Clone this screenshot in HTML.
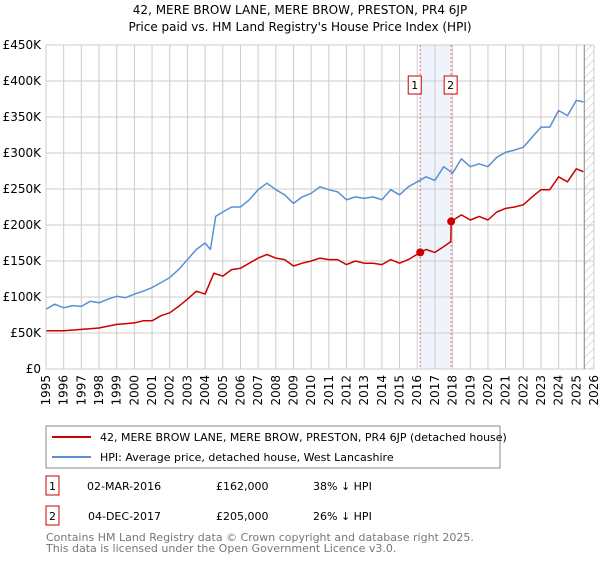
<!DOCTYPE html>
<html><head><meta charset="utf-8"><style>
body{margin:0;background:#fff;font-family:"DejaVu Sans","Liberation Sans",sans-serif;}
svg text{font-family:"DejaVu Sans","Liberation Sans",sans-serif;}
</style></head><body>
<svg id="c" width="600" height="560" xmlns="http://www.w3.org/2000/svg">
<defs><pattern id="hatch" width="6" height="6" patternUnits="userSpaceOnUse" patternTransform="rotate(45)"><line x1="0" y1="0" x2="0" y2="6" stroke="#bbb" stroke-width="1"/></pattern></defs>
<text x="300" y="14" text-anchor="middle" font-size="12" fill="#000">42, MERE BROW LANE, MERE BROW, PRESTON, PR4 6JP</text>
<text x="300" y="31" text-anchor="middle" font-size="12" fill="#000">Price paid vs. HM Land Registry's House Price Index (HPI)</text>
<g id="grid"></g><g id="marks"></g><g id="axes"></g>
<rect x="46" y="426" width="454" height="42" fill="#fff" stroke="#888"/>
<line x1="52" y1="437" x2="91" y2="437" stroke="#cc0000" stroke-width="2"/>
<text x="100" y="441" font-size="11">42, MERE BROW LANE, MERE BROW, PRESTON, PR4 6JP (detached house)</text>
<line x1="52" y1="457" x2="91" y2="457" stroke="#5b8fd4" stroke-width="2"/>
<text x="100" y="461" font-size="11">HPI: Average price, detached house, West Lancashire</text>
<g>
<rect x="46" y="476" width="13" height="19" fill="#fff" stroke="#cc0000"/><text x="52.5" y="490" text-anchor="middle" font-size="11">1</text>
<text x="87" y="490" font-size="11">02-MAR-2016</text><text x="216" y="490" font-size="11">£162,000</text><text x="313" y="490" font-size="11">38% ↓ HPI</text></g>
<g>
<rect x="46" y="506" width="13" height="19" fill="#fff" stroke="#cc0000"/><text x="52.5" y="520" text-anchor="middle" font-size="11">2</text>
<text x="88" y="520" font-size="11">04-DEC-2017</text><text x="216" y="520" font-size="11">£205,000</text><text x="313" y="520" font-size="11">26% ↓ HPI</text></g>
<text x="46" y="541" font-size="11" fill="#777">Contains HM Land Registry data © Crown copyright and database right 2025.</text>
<text x="46" y="552" font-size="11" fill="#777">This data is licensed under the Open Government Licence v3.0.</text>
</svg>
<script>
const hpiYears=[1995,1995.5,1996,1996.5,1997,1997.5,1998,1998.5,1999,1999.5,2000,2000.5,2001,2001.5,2002,2002.5,2003,2003.5,2004,2004.3,2004.6,2005,2005.5,2006,2006.5,2007,2007.5,2008,2008.5,2009,2009.5,2010,2010.5,2011,2011.5,2012,2012.5,2013,2013.5,2014,2014.5,2015,2015.5,2016,2016.5,2017,2017.5,2018,2018.5,2019,2019.5,2020,2020.5,2021,2021.5,2022,2022.5,2023,2023.5,2024,2024.5,2025,2025.4];
const hpiValues=[83,90,85,88,87,94,92,97,101,99,104,108,113,120,127,138,152,166,175,166,212,218,225,225,235,249,258,249,242,230,239,244,253,249,246,235,239,237,239,235,249,242,253,260,267,262,281,272,292,281,285,281,294,301,304,308,322,336,336,359,352,373,371];
const propYears=[1995,1996,1997,1998,1999,2000,2000.5,2001,2001.5,2002,2002.5,2003,2003.5,2004,2004.5,2005,2005.5,2006,2006.5,2007,2007.5,2008,2008.5,2009,2009.5,2010,2010.5,2011,2011.5,2012,2012.5,2013,2013.5,2014,2014.5,2015,2015.5,2016.17,2016.5,2017,2017.5,2017.9,2017.92,2018.5,2019,2019.5,2020,2020.5,2021,2021.5,2022,2022.5,2023,2023.5,2024,2024.5,2025,2025.4];
const propValues=[53,53,55,57,62,64,67,67,74,78,87,97,108,104,133,129,138,140,147,154,159,154,152,143,147,150,154,152,152,145,150,147,147,145,152,147,152,162,166,162,170,177,205,214,207,212,207,218,223,225,228,239,249,249,267,260,278,274];
const saleYears=[2016.17,2017.92];
const saleValues=[162,205];
const saleLabels=["1","2"];
const yTicks=[0,50,100,150,200,250,300,350,400,450];
const yTickLabels=["£0","£50K","£100K","£150K","£200K","£250K","£300K","£350K","£400K","£450K"];
const xTicks=[1995,1996,1997,1998,1999,2000,2001,2002,2003,2004,2005,2006,2007,2008,2009,2010,2011,2012,2013,2014,2015,2016,2017,2018,2019,2020,2021,2022,2023,2024,2025,2026];

const X0=46,X1=594,Y0=369,Y1=45;
const sx=y=>X0+(y-1995)/(2026-1995)*(X1-X0);
const sy=v=>Y0-v/450*(Y0-Y1);
const NS="http://www.w3.org/2000/svg";
function mk(tag,attrs,parent,txt){const e=document.createElementNS(NS,tag);for(const k in attrs)e.setAttribute(k,attrs[k]);if(txt!==undefined)e.textContent=txt;parent.appendChild(e);return e;}
const grid=document.getElementById('grid'),marks=document.getElementById('marks'),axes=document.getElementById('axes');
// shaded band
const band=mk('rect',{x:sx(saleYears[0]),y:Y1,width:sx(saleYears[1])-sx(saleYears[0]),height:Y0-Y1,fill:'#eef3fc'},grid);


xTicks.forEach(t=>{const l=mk('line',{x1:sx(t),x2:sx(t),y1:Y1,y2:Y0,stroke:'#ccc'},grid);

});
yTicks.forEach(t=>{const l=mk('line',{x1:X0,x2:X1,y1:sy(t),y2:sy(t),stroke:'#ccc'},grid);

});
// hatch future
const hx=sx(2025.45);
const h=mk('rect',{x:hx,y:Y1,width:X1-hx,height:Y0-Y1,fill:'url(#hatch)'},grid);


mk('line',{x1:hx,x2:hx,y1:Y1,y2:Y0,stroke:'#888'},grid);
saleYears.forEach(y=>{const l=mk('line',{x1:sx(y),x2:sx(y),y1:Y1,y2:Y0,stroke:'#e06666','stroke-dasharray':'2,2'},grid);

});
function path(xs,vs,color,name){const d=xs.map((x,i)=>(i?'L':'M')+sx(x).toFixed(1)+','+sy(vs[i]).toFixed(1)).join('');
const p=mk('path',{d:d,fill:'none',stroke:color,'stroke-width':1.5,'stroke-linejoin':'round'},marks);

}
path(hpiYears,hpiValues,'#5b8fd4','hpi-line');
path(propYears,propValues,'#cc0000','property-line');
saleYears.forEach((y,i)=>{const c=mk('circle',{cx:sx(y),cy:sy(saleValues[i]),r:4,fill:'#cc0000'},marks);


const g=mk('g',{},marks);


mk('rect',{x:sx(y)-15+(i?1:-1)*0,y:76,width:13,height:18,fill:'#fff',stroke:'#cc0000'},g).setAttribute('x',sx(y)-(i?9:9)+ (i?0:-0));
g.firstChild.setAttribute('x',sx(y)-(i?7:12)- (i?0:0));
mk('text',{x:sx(y)-(i?0.5:5.5),y:89,'text-anchor':'middle','font-size':11},g,saleLabels[i]);});
mk('line',{x1:X0,x2:X0,y1:Y1,y2:Y0,stroke:'#ccc'},axes);
yTicks.forEach((t,i)=>{const tx=mk('text',{x:X0-5,y:sy(t)+4,'text-anchor':'end','font-size':12},axes,yTickLabels[i]);

});
xTicks.forEach(t=>{const tx=mk('text',{x:0,y:0,'text-anchor':'end','font-size':12,transform:`translate(${sx(t)+4},${Y0+6}) rotate(-90)`},axes,String(t));

});
</script>
</body></html>
